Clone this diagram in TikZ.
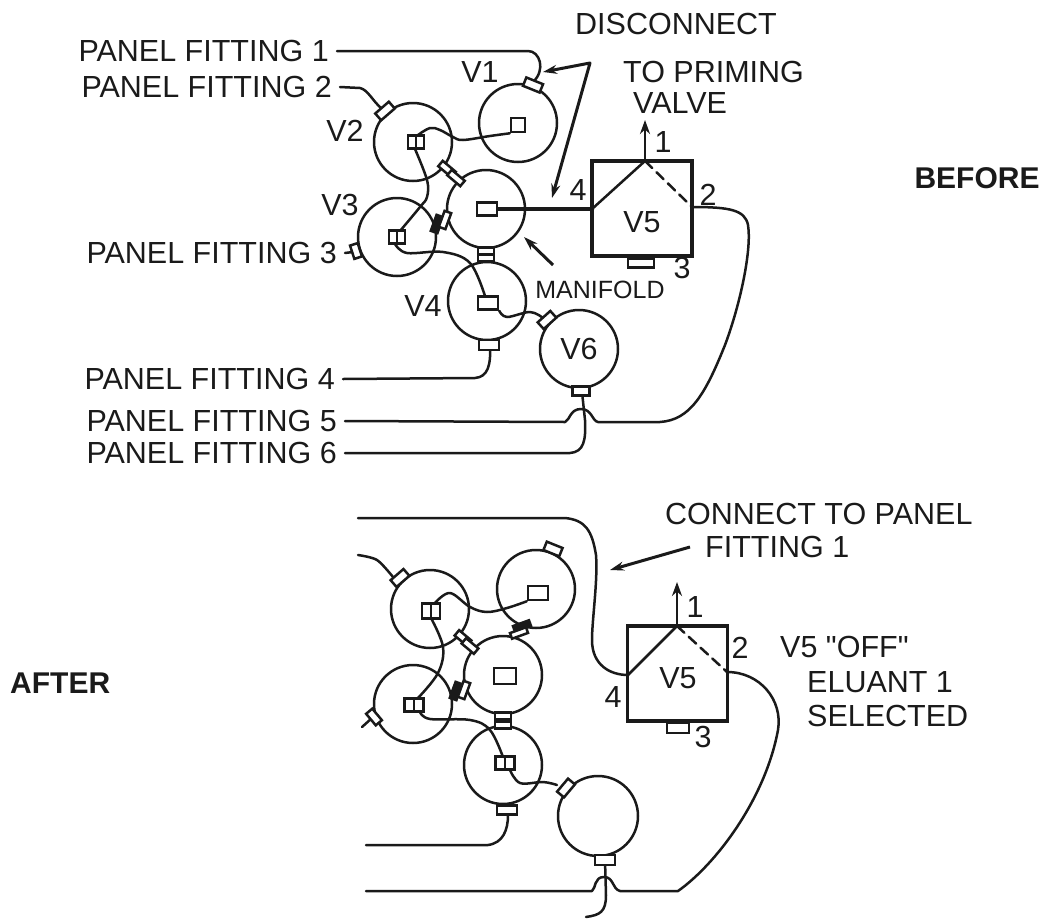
\documentclass[tikz,border=0pt]{standalone}
\usepackage{fontspec}
\setmainfont[Ligatures=TeXOff]{Liberation Sans}
\usetikzlibrary{arrows.meta}
\definecolor{ink}{HTML}{1A1A1A}
\tikzset{
  lab/.style={inner sep=0pt,text=ink,font=\fontsize{30.5}{34}\selectfont},
  pflab/.style={lab,anchor=east,inner xsep=8pt},
  labb/.style={inner sep=0pt,text=ink,font=\fontsize{30}{34}\bfseries\selectfont},
  labs/.style={inner sep=0pt,text=ink,font=\fontsize{25}{28}\selectfont},
  valve/.style={circle,draw=ink,line width=2.5pt,inner sep=0pt,minimum size=78pt},
  bigbox/.style={rectangle,draw=ink,line width=3.2pt,inner sep=0pt,minimum width=100pt,minimum height=95pt},
  inner/.style={rectangle,draw=ink,fill=white,line width=2.6pt,inner sep=0pt,minimum width=16pt,minimum height=13pt},
  cell/.style={inner,path picture={\draw[ink,line width=2pt] (path picture bounding box.north) -- (path picture bounding box.south);}},
  port/.style={rectangle,draw=ink,fill=white,line width=2.5pt,inner sep=0pt,minimum width=20pt,minimum height=9pt},
  pipe/.style={draw=ink,line width=2.5pt,line cap=round,line join=round},
  pointer/.style={draw=ink,line width=3pt,-{Stealth[length=14pt,width=9pt]}},
  upflow/.style={draw=ink,line width=2.6pt,-{Stealth[length=14pt,width=10pt]}},
  dashpipe/.style={pipe,dash pattern=on 10pt off 6pt}
}
\begin{document}
\begin{tikzpicture}[x=1pt,y=-1pt]
\useasboundingbox (0,0) rectangle (1045,919);
% ---- BEFORE ----
\node[valve] (v1) at (518,123) {};
\node[valve] (v2) at (413,142) {};
\node[valve] (v3) at (397,237) {};
\node[valve] (m)  at (486,209) {};
\node[valve] (v4) at (487,301) {};
\node[valve] (v6) at (579,349) {};
\node[bigbox] (b) at (642,208.5) {};
\coordinate (bl) at (592,209);
\coordinate (bt) at (645,161);
\coordinate (br) at (692,207);
\coordinate (bup) at (645,120);
% labels
\node[pflab] (pf1) at (337,51) {PANEL FITTING 1};
\node[pflab] (pf2) at (340,87) {PANEL FITTING 2};
\node[pflab] (pf3) at (345,253) {PANEL FITTING 3};
\node[pflab] (pf4) at (343,379) {PANEL FITTING 4};
\node[pflab] (pf5) at (345,421) {PANEL FITTING 5};
\node[pflab] (pf6) at (345,453) {PANEL FITTING 6};
\node[lab] (tdis) at (676,24) {DISCONNECT};
\node[lab] (tv1) at (480,72) {V1};
\node[lab] (tv2) at (345,131) {V2};
\node[lab] (tv3) at (340,205) {V3};
\node[lab] (tv4) at (423,306) {V4};
\node[lab] (tv6) at (579,349) {V6};
\node[lab] (tv5) at (642,222) {V5};
\node[labs] (tman) at (600,290) {MANIFOLD};
\node[lab,anchor=west] (tpri) at (623,72) {TO PRIMING};
\node[lab,anchor=west] (tval) at (633,103) {VALVE};
\node[lab] (n1) at (663,142) {1};
\node[lab] (n2) at (708,195) {2};
\node[lab] (n3) at (682,268) {3};
\node[lab] (n4) at (578,190) {4};
\node[labb] (tbef) at (977,178) {BEFORE};
% inner ports
\node[inner,minimum width=14pt,minimum height=14pt] (i1) at (518,125) {};
\node[cell] (i2) at (416,142) {};
\node[cell] (i3) at (397,237) {};
\node[inner,minimum width=20pt] (im) at (487,209) {};
\node[inner,minimum width=20pt] (i4) at (488,303) {};
% wires
\draw[pipe] plot[smooth,tension=.6] coordinates {(i1.south west) (490,136) (463,140) (453,137) (440,130) (430,128) (418,135)};
\draw[pipe] plot[smooth,tension=.6] coordinates {(415,149) (427,180) (427,197) (420,207) (400,231)};
\draw[pipe] plot[smooth,tension=.6] coordinates {(395,244) (407,253) (443,252) (470,263) (485,296)};
\draw[pipe] plot[smooth,tension=.6] coordinates {(i4.south east) (507,317) (530,312) (543,318)};
\draw[pipe] (pf1.east) -- (528,51) .. controls (540,51) and (546,70) .. (533,82);
\draw[pipe] (pf2.east) -- (360,88) .. controls (368,90) and (372,100) .. (381,108);
\draw[pipe] (pf3.east) -- (353,252);
\draw[pipe] (pf4.east) -- (475,378) .. controls (488,377) and (491,365) .. (490,345);
\draw[pipe] (pf6.east) -- (570,453) .. controls (584,452) and (586,440) .. (585,420) -- (582,392);
\draw[pipe] (pf5.east) -- (565,422) .. controls (570,420) and (570,409) .. (581,409) .. controls (592,409) and (592,421) .. (598,422) -- (660,422) .. controls (690,420) and (705,395) .. (725,345) .. controls (740,305) and (752,250) .. (748,225) .. controls (745,210) and (730,207) .. (br);
\draw[pipe,line width=4.6pt] (im.east) -- (bl);
\draw[pipe] (bl) -- (bt);
\draw[dashpipe] (bt) -- (br);
\draw[upflow] (bt) -- (bup);
% outer ports
\node[port,rotate=-22,minimum width=18pt] (p1) at (533,85) {};
\node[port,rotate=41,minimum width=18pt] (p2) at (385,111) {};
\node[port,rotate=-72,minimum width=14pt,minimum height=8pt] (p3) at (356,251) {};
\node[port,minimum height=10pt] (p4) at (489,345) {};
\node[port,minimum height=9pt,minimum width=17pt] (p6) at (581,391) {};
\node[port,rotate=42,minimum width=17pt] (p6t) at (547,320) {};
\node[port,rotate=-40,minimum width=17pt,minimum height=7pt] (f1) at (447,169) {};
\node[port,rotate=-40,minimum width=17pt,minimum height=7pt] (f2) at (456,178) {};
\node[port,rotate=70,minimum width=17pt,minimum height=7pt,fill=ink] (f3) at (437,224) {};
\node[port,rotate=70,minimum width=17pt,minimum height=7pt] (f4) at (445,220) {};
\node[port,minimum height=7pt,minimum width=16pt] (f5) at (486,251) {};
\node[port,minimum height=7pt,minimum width=16pt] (f6) at (486,258) {};
\node[port,minimum width=26pt,minimum height=9pt] (p5b) at (641,263) {};
% pointers
\coordinate (dj) at (590,63);
\coordinate (dm) at (543,72);
\coordinate (dd) at (552,198);
\draw[draw=ink,line width=3pt,line join=round,{Stealth[length=14pt,width=9pt]}-{Stealth[length=14pt,width=9pt]}] (dm) -- (dj) -- (dd);
\coordinate (ms) at (553,265);
\coordinate (me) at (524,237);
\draw[pointer] (ms) -- (me);
% ---- AFTER ----
\node[valve] (a1) at (536,589) {};
\node[valve] (a2) at (430,609) {};
\node[valve] (a3) at (413,704) {};
\node[valve] (am) at (503,675) {};
\node[valve] (a4) at (503,765) {};
\node[valve,minimum size=80pt] (a6) at (598,816) {};
\node[bigbox] (ab) at (677.5,673.5) {};
\coordinate (al) at (628,675);
\coordinate (at) at (677,626);
\coordinate (ar) at (727,672);
\coordinate (aup) at (677,582);
\coordinate (alw) at (358,518);
\coordinate (a2e) at (358,555);
\coordinate (a3e) at (362,727);
\coordinate (a4e) at (366,845);
\coordinate (a5e) at (366,891);
\coordinate (a6e) at (586,917);
\node[lab,anchor=west] (tcon) at (665,514) {CONNECT TO PANEL};
\node[lab,anchor=west] (tfit) at (705,547) {FITTING 1};
\node[lab] (tv5b) at (678,678) {V5};
\node[lab] (m1) at (695,607) {1};
\node[lab] (m2) at (740,648) {2};
\node[lab] (m3) at (703,737) {3};
\node[lab] (m4) at (613,697) {4};
\node[lab,anchor=west] (toff) at (780,647) {V5 "OFF"};
\node[lab,anchor=west] (tel) at (807,682) {ELUANT 1};
\node[lab,anchor=west] (tsel) at (807,716) {SELECTED};
\node[labb,anchor=west] (taft) at (10,683) {AFTER};
\node[inner,minimum width=20pt,minimum height=14pt] (j1) at (538,593) {};
\node[cell,minimum width=18pt,minimum height=15pt] (j2) at (431,611) {};
\node[cell,minimum width=19pt,minimum height=13pt] (j3) at (414,705) {};
\node[inner,minimum width=22pt,minimum height=16pt] (jm) at (505,676) {};
\node[cell,minimum width=19pt,minimum height=13pt] (j4) at (505,763) {};
\draw[pipe] plot[smooth,tension=.6] coordinates {(j1.south west) (507,608) (487,612) (470,607) (450,593) (435,603)};
\draw[pipe] plot[smooth,tension=.6] coordinates {(431,618) (443,647) (438,673) (418,698)};
\draw[pipe] plot[smooth,tension=.6] coordinates {(420,712) (430,719) (470,720) (490,730) (503,757)};
\draw[pipe] plot[smooth,tension=.6] coordinates {(510,770) (520,783) (543,782) (557,785)};
\draw[pipe] plot[smooth,tension=.5] coordinates {(a2e) (377,560) (393,577)};
\draw[pipe] (a3e) -- (372,718);
\draw[pipe] (alw) -- (565,518) .. controls (585,520) and (592,530) .. (596,555) .. controls (598,580) and (592,620) .. (592,640) .. controls (592,665) and (610,675) .. (al);
\draw[pipe] (a4e) -- (488,845) .. controls (503,843) and (508,830) .. (508,815);
\draw[pipe] (a6e) .. controls (600,915) and (606,912) .. (606,895) -- (605,860);
\draw[pipe] (a5e) -- (592,891) .. controls (596,888) and (594,877) .. (604,877) .. controls (614,877) and (612,889) .. (620,891) -- (678,891) .. controls (715,865) and (765,800) .. (778,730) .. controls (783,700) and (760,672) .. (ar);
\draw[pipe] (al) -- (at);
\draw[dashpipe] (at) -- (ar);
\draw[upflow] (at) -- (aup);
\node[port,rotate=-22,minimum width=17pt] (q1) at (553,549) {};
\node[port,rotate=41,minimum width=17pt] (q2) at (400,578) {};
\node[port,rotate=-50,minimum width=15pt,minimum height=8pt] (q3) at (374,717) {};
\node[port,minimum height=9pt] (q4) at (507,810) {};
\node[port,minimum height=10pt] (q6) at (605,860) {};
\node[port,rotate=50,minimum width=17pt] (q6t) at (566,788) {};
\node[port,rotate=-40,minimum width=16pt,minimum height=7pt] (g1) at (463,638) {};
\node[port,rotate=-40,minimum width=16pt,minimum height=7pt] (g2) at (470,646) {};
\node[port,rotate=70,minimum width=17pt,minimum height=7pt,fill=ink] (g3) at (456,691) {};
\node[port,rotate=70,minimum width=17pt,minimum height=7pt] (g4) at (464,690) {};
\node[port,minimum height=7pt,minimum width=16pt] (g5) at (503,716) {};
\node[port,minimum height=7pt,minimum width=16pt] (g6) at (503,725) {};
\node[port,rotate=20,minimum height=6pt,minimum width=17pt,fill=ink] (g7) at (522,626) {};
\node[port,rotate=20,minimum height=6pt,minimum width=17pt] (g8) at (519,633) {};
\node[port,minimum width=22pt,minimum height=10pt] (q5b) at (678,728) {};
\coordinate (cs) at (690,547);
\coordinate (ce) at (610,570);
\draw[pointer] (cs) -- (ce);
\end{tikzpicture}
\end{document}
